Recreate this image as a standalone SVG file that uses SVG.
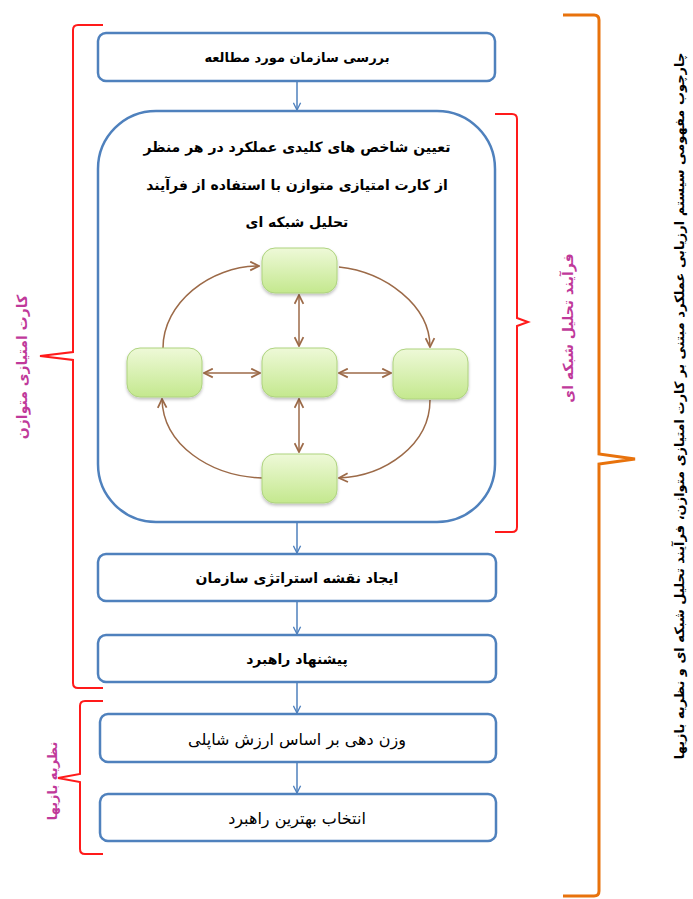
<svg xmlns="http://www.w3.org/2000/svg" width="693" height="899" viewBox="0 0 693 899">
<style>
.box{fill:#fff;stroke:#4f81bd;stroke-width:2.5}
.t{font-family:"DejaVu Sans",sans-serif;text-anchor:middle;direction:rtl}
.b{font-weight:bold;fill:#000}
.lab{font-family:"DejaVu Sans",sans-serif;text-anchor:middle;direction:rtl;fill:#c0399a;font-weight:bold}
.con{fill:none;stroke:#4f81bd;stroke-width:1.5}
.brn{fill:none;stroke:#9c6a48;stroke-width:1.5}
.node{fill:url(#g);stroke:#aed37f;stroke-width:1;filter:url(#sh)}
.red{fill:none;stroke:#ff1a1a;stroke-width:2}
.org{fill:none;stroke:#e8720c;stroke-width:3}
</style>
<defs>
<linearGradient id="g" x1="0" y1="0" x2="0" y2="1"><stop offset="0" stop-color="#eef9d8"/><stop offset="1" stop-color="#c4e88e"/></linearGradient>
<filter id="sh" x="-20%" y="-20%" width="140%" height="150%"><feDropShadow dx="0" dy="2" stdDeviation="1.5" flood-color="#000" flood-opacity="0.25"/></filter>
<marker id="ab" viewBox="0 0 10 10" refX="9" refY="5" markerWidth="9" markerHeight="9" markerUnits="userSpaceOnUse" orient="auto"><path d="M1,1 L9,5 L1,9" fill="none" stroke="#4f81bd" stroke-width="1.5"/></marker>
<marker id="am" viewBox="0 0 10 10" refX="9" refY="5" markerWidth="11" markerHeight="11" markerUnits="userSpaceOnUse" orient="auto-start-reverse"><path d="M1,1 L9,5 L1,9" fill="none" stroke="#9c6a48" stroke-width="1.6"/></marker>
</defs>
<rect width="693" height="899" fill="#fff"/>
<g id="brackets">
<path class="red" d="M103,25 L78,25 Q73,25 73,30 L73,352 L40,356 L73,360 L73,683 Q73,688 78,688 L103,688"/>
<path class="red" d="M103,701 L85,701 Q80,701 80,706 L80,774 L58,778 L80,782 L80,849 Q80,854 85,854 L103,854"/>
<path class="red" d="M495,114 L512,114 Q517,114 517,119 L517,318 L528,322 L517,326 L517,527 Q517,532 512,532 L495,532"/>
<path class="org" d="M563,15 L594,15 Q599,15 599,20 L599,454 L635,459 L599,464 L599,891 Q599,896 594,896 L563,896"/>
</g>
<g id="labels">
<text class="lab" font-size="14" transform="translate(22,367) rotate(-90)" y="5">کارت امتیازی متوازن</text>
<text class="lab" font-size="13" transform="translate(52,781) rotate(-90)" y="5">نظریه بازیها</text>
<text class="lab" font-size="14" transform="translate(568,328) rotate(-90)" y="5">فرآیند تحلیل شبکه ای</text>
<text class="t b" font-size="13" transform="translate(679,406) rotate(-90)" y="5">چارچوب مفهومی سیستم ارزیابی عملکرد مبتنی بر کارت امتیازی متوازن، فرآیند تحلیل شبکه ای و نظریه بازیها</text>
</g>
<g id="n2"><rect class="box" x="98" y="111" width="397" height="411" rx="58"/>
<text class="t b" x="297" y="152" font-size="14">تعیین شاخص های کلیدی عملکرد در هر منظر</text>
<text class="t b" x="297" y="190" font-size="14">از کارت امتیازی متوازن با استفاده از فرآیند</text>
<text class="t b" x="297" y="227" font-size="14">تحلیل شبکه ای</text></g>
<g id="connectors">
<line class="con" x1="297" y1="81" x2="297" y2="110" marker-end="url(#ab)"/>
<line class="con" x1="297" y1="522" x2="297" y2="553" marker-end="url(#ab)"/>
<line class="con" x1="297" y1="601" x2="297" y2="634" marker-end="url(#ab)"/>
<line class="con" x1="297" y1="682" x2="297" y2="713" marker-end="url(#ab)"/>
<line class="con" x1="297" y1="762" x2="297" y2="793" marker-end="url(#ab)"/>
<line class="brn" x1="299" y1="295" x2="299" y2="346" marker-start="url(#am)" marker-end="url(#am)"/>
<line class="brn" x1="299" y1="399" x2="299" y2="452" marker-start="url(#am)" marker-end="url(#am)"/>
<line class="brn" x1="204" y1="373" x2="260" y2="373" marker-start="url(#am)" marker-end="url(#am)"/>
<line class="brn" x1="339" y1="373" x2="391" y2="373" marker-start="url(#am)" marker-end="url(#am)"/>
<path class="brn" d="M163,348 C163,303 210,266 259,266" marker-end="url(#am)"/>
<path class="brn" d="M339,267 C385,272 430,305 430,347" marker-end="url(#am)"/>
<path class="brn" d="M430,400 C430,445 385,476 339,478" marker-end="url(#am)"/>
<path class="brn" d="M262,478 C210,476 163,445 162,399" marker-end="url(#am)"/>
</g>
<g id="n1"><rect class="box" x="98" y="33" width="397" height="48" rx="8"/><text class="t b" x="297" y="62" font-size="13">بررسی سازمان مورد مطالعه</text></g>
<g id="g1"><rect class="node" x="262" y="248" width="75" height="45" rx="13"/></g>
<g id="g2"><rect class="node" x="127" y="348" width="75" height="49" rx="13"/></g>
<g id="g3"><rect class="node" x="262" y="348" width="75" height="49" rx="13"/></g>
<g id="g4"><rect class="node" x="393" y="349" width="75" height="50" rx="13"/></g>
<g id="g5"><rect class="node" x="262" y="454" width="75" height="49" rx="13"/></g>
<g id="n3"><rect class="box" x="98" y="554" width="398" height="47" rx="8"/><text class="t b" x="297" y="583" font-size="14" fill="#333">ایجاد نقشه استراتژی سازمان</text></g>
<g id="n4"><rect class="box" x="98" y="635" width="398" height="47" rx="8"/><text class="t b" x="297" y="664" font-size="14">پیشنهاد راهبرد</text></g>
<g id="n5"><rect class="box" x="100" y="714" width="396" height="48" rx="8"/><text class="t" x="297" y="745" font-size="16" fill="#000">وزن دهی بر اساس ارزش شاپلی</text></g>
<g id="n6"><rect class="box" x="100" y="794" width="396" height="47" rx="8"/><text class="t" x="297" y="824" font-size="16" fill="#000">انتخاب بهترین راهبرد</text></g>
</svg>
